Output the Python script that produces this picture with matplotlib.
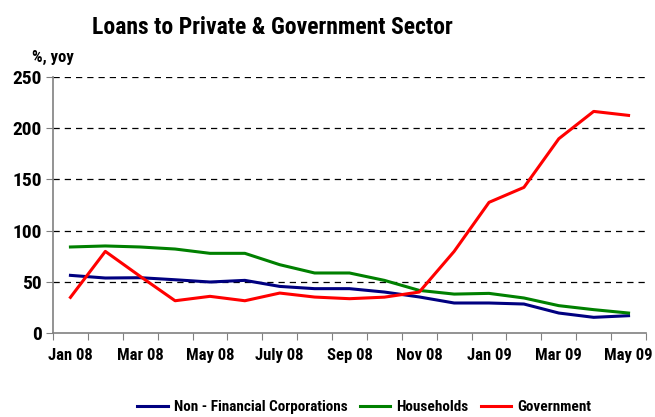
import matplotlib
matplotlib.use("Agg")
import matplotlib.pyplot as plt
from matplotlib import font_manager

months = ["Jan 08", "Feb 08", "Mar 08", "Apr 08", "May 08", "Jun 08", "July 08", "Aug 08",
          "Sep 08", "Oct 08", "Nov 08", "Dec 08", "Jan 09", "Feb 09", "Mar 09", "Apr 09", "May 09"]
non_financial = [56.3, 53.7, 54.0, 52.0, 49.8, 51.4, 45.5, 43.3, 43.3, 40.0, 35.2,
                 29.3, 29.3, 28.3, 19.5, 15.3, 16.9]
households = [84.0, 85.0, 84.0, 82.0, 77.8, 77.8, 66.7, 58.6, 58.6, 51.4, 41.6,
              38.0, 38.7, 34.2, 26.7, 22.8, 19.5]
government = [34.8, 79.7, 55.3, 31.5, 35.8, 31.5, 39.0, 35.1, 33.5, 35.0, 40.0,
              79.7, 127.6, 142.2, 189.7, 216.4, 212.5]

# pick a narrow-ish bold face if one is around
installed = {f.name for f in font_manager.fontManager.ttflist}
FONT = [f for f in ["Liberation Sans Narrow", "Roboto Condensed", "Liberation Sans"] if f in installed]
FONT.append("DejaVu Sans")
plt.rcParams["font.family"] = FONT
plt.rcParams["font.weight"] = "bold"

fig = plt.figure(figsize=(6.55, 4.17), dpi=100)
ax = fig.add_axes([53 / 655, 1 - 333 / 417, (646 - 53) / 655, (333 - 77) / 417])

x = list(range(len(months)))
ax.plot(x, non_financial, color="#000080", lw=2.2, label="Non - Financial Corporations")
ax.plot(x, households, color="#008000", lw=2.2, label="Households")
ax.plot(x, government, color="#ff0000", lw=2.2, label="Government")

ax.set_xlim(-0.5, len(months) - 0.5)
ax.set_ylim(0, 250)
ax.set_yticks(range(0, 251, 50))
ax.set_xticks([i - 0.5 for i in range(len(months) + 1)])
ax.set_xticklabels([])
ax.set_xticks(x[::2], minor=True)
ax.set_xticklabels(months[::2], minor=True)
ax.tick_params(axis="x", which="minor", length=0, pad=11, labelsize=12)
ax.tick_params(axis="x", which="major", length=5, color="#808080", direction="out")
ax.tick_params(axis="y", length=5, color="#808080", labelsize=14, pad=3)

for y in range(50, 251, 50):
    ax.axhline(y, color="black", lw=0.9, ls=(0, (5, 4)), zorder=0)

for s in ["top", "right"]:
    ax.spines[s].set_visible(False)
for s in ["left", "bottom"]:
    ax.spines[s].set_color("#808080")
    ax.spines[s].set_linewidth(1.2)

fig.text(272 / 655, 1 - 27 / 417, "Loans to Private & Government Sector", ha="center", va="center",
         fontsize=17, fontweight="bold")
fig.text(32 / 655, 1 - 57 / 417, "%, yoy", ha="left", va="center", fontsize=12, fontweight="bold")

fig.legend(loc="center", bbox_to_anchor=(0.556, 1 - 407 / 417), ncol=3, frameon=False,
           fontsize=11, handlelength=2.0, handletextpad=0.4, columnspacing=0.8)

fig.savefig("out.png", dpi=100)
